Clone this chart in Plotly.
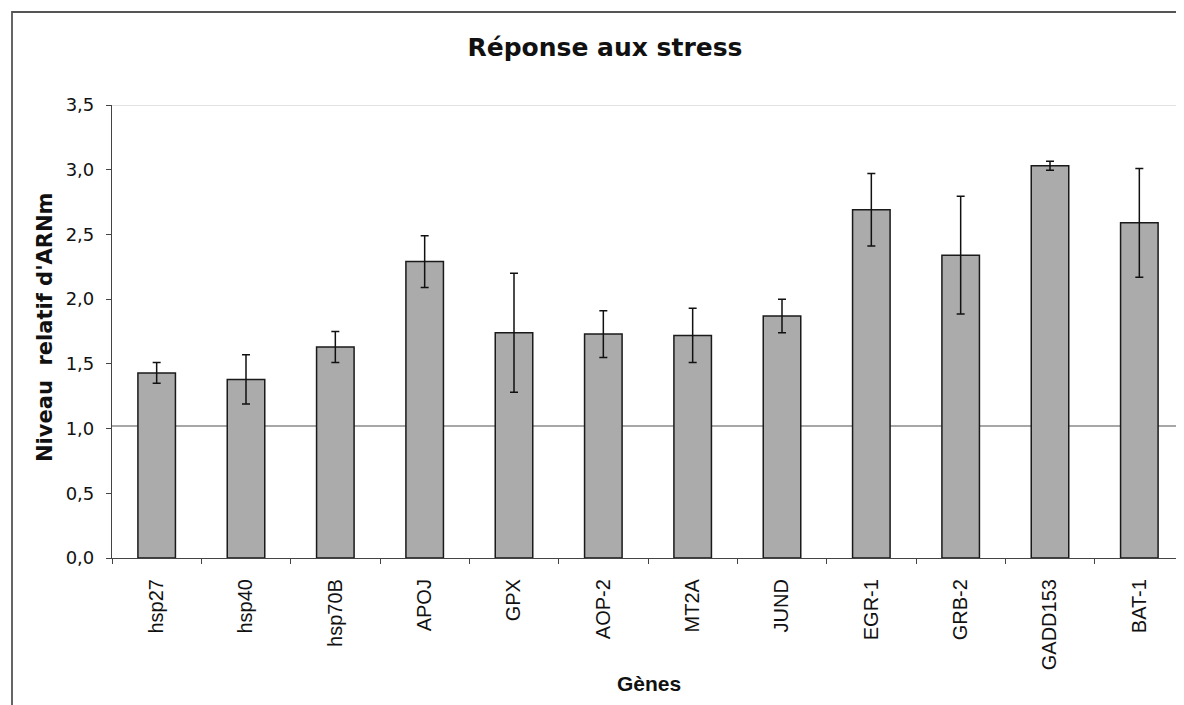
import plotly.graph_objects as go

genes = ["hsp27", "hsp40", "hsp70B", "APOJ", "GPX", "AOP-2", "MT2A", "JUND",
         "EGR-1", "GRB-2", "GADD153", "BAT-1"]
values = [1.43, 1.38, 1.63, 2.29, 1.74, 1.73, 1.72, 1.87, 2.69, 2.34, 3.03, 2.59]
errors = [0.08, 0.19, 0.12, 0.20, 0.46, 0.18, 0.21, 0.13, 0.28, 0.455, 0.035, 0.42]
baseline = 1.02

# page has an 8px body margin; work in page coordinates and convert
OFF = 8
W, H = 1184 - OFF, 705 - OFF
L, R, T = 112 - OFF, 0, 105 - OFF
B = H - (558 - OFF)
pw = W - L - R
ph = H - T - B

def px_x(px):
    return (px - OFF - L) / pw

def px_y(py):
    return (H - B - (py - OFF)) / ph

fig = go.Figure()
fig.add_trace(go.Bar(
    x=genes, y=values,
    marker=dict(color="#ababab", line=dict(color="#1a1a1a", width=1.5)),
    error_y=dict(type="data", array=errors, visible=True, color="#111111",
                 thickness=1.5, width=4),
    width=0.42,
    showlegend=False,
))

fig.update_layout(
    width=W, height=H,
    margin=dict(l=L, r=R, t=T, b=B, pad=0),
    paper_bgcolor="white", plot_bgcolor="white",
    separators=", ",
    title=dict(text="<b>Réponse aux stress</b>", x=(605 - OFF) / W, xanchor="center",
               y=1 - (47 - OFF) / H, yanchor="middle",
               font=dict(family="DejaVu Sans", size=25, color="#111111")),
    xaxis=dict(
        showline=True, linecolor="#444444", linewidth=1.2,
        ticks="outside", ticklen=5, tickcolor="#444444", tickson="boundaries",
        tickangle=-90, showgrid=False, ticklabelstandoff=12,
        tickfont=dict(family="Liberation Sans", size=20, color="#111111"),
    ),
    yaxis=dict(
        range=[0, 3.5], dtick=0.5, tickformat=".1f",
        showline=True, linecolor="#444444", linewidth=1.2,
        ticks="outside", ticklen=5, tickcolor="#444444",
        showgrid=False, zeroline=False, ticklabelstandoff=8,
        tickfont=dict(family="DejaVu Sans", size=18, color="#111111"),
    ),
    shapes=[
        dict(type="line", xref="paper", yref="y", x0=0, x1=1, y0=baseline, y1=baseline,
             line=dict(color="#8a8a8a", width=1.5), layer="below"),
        dict(type="line", xref="paper", yref="y", x0=0, x1=1, y0=3.5, y1=3.5,
             line=dict(color="#c8c8c8", width=1.2), layer="below"),
        dict(type="rect", xref="paper", yref="paper",
             x0=px_x(12), x1=px_x(1210), y0=px_y(730), y1=px_y(12),
             line=dict(color="#555555", width=1.8), fillcolor="rgba(0,0,0,0)"),
    ],
    annotations=[
        dict(text="<b>Niveau  relatif d'ARNm</b>", xref="paper", yref="paper",
             x=px_x(45), y=px_y(328), textangle=-90, showarrow=False,
             xanchor="center", yanchor="middle",
             font=dict(family="DejaVu Sans", size=21, color="#111111")),
        dict(text="<b>Gènes</b>", xref="paper", yref="paper",
             x=px_x(649), y=px_y(683), showarrow=False,
             xanchor="center", yanchor="middle",
             font=dict(family="Liberation Sans", size=21, color="#111111")),
    ],
)

fig.write_html("out.html")
